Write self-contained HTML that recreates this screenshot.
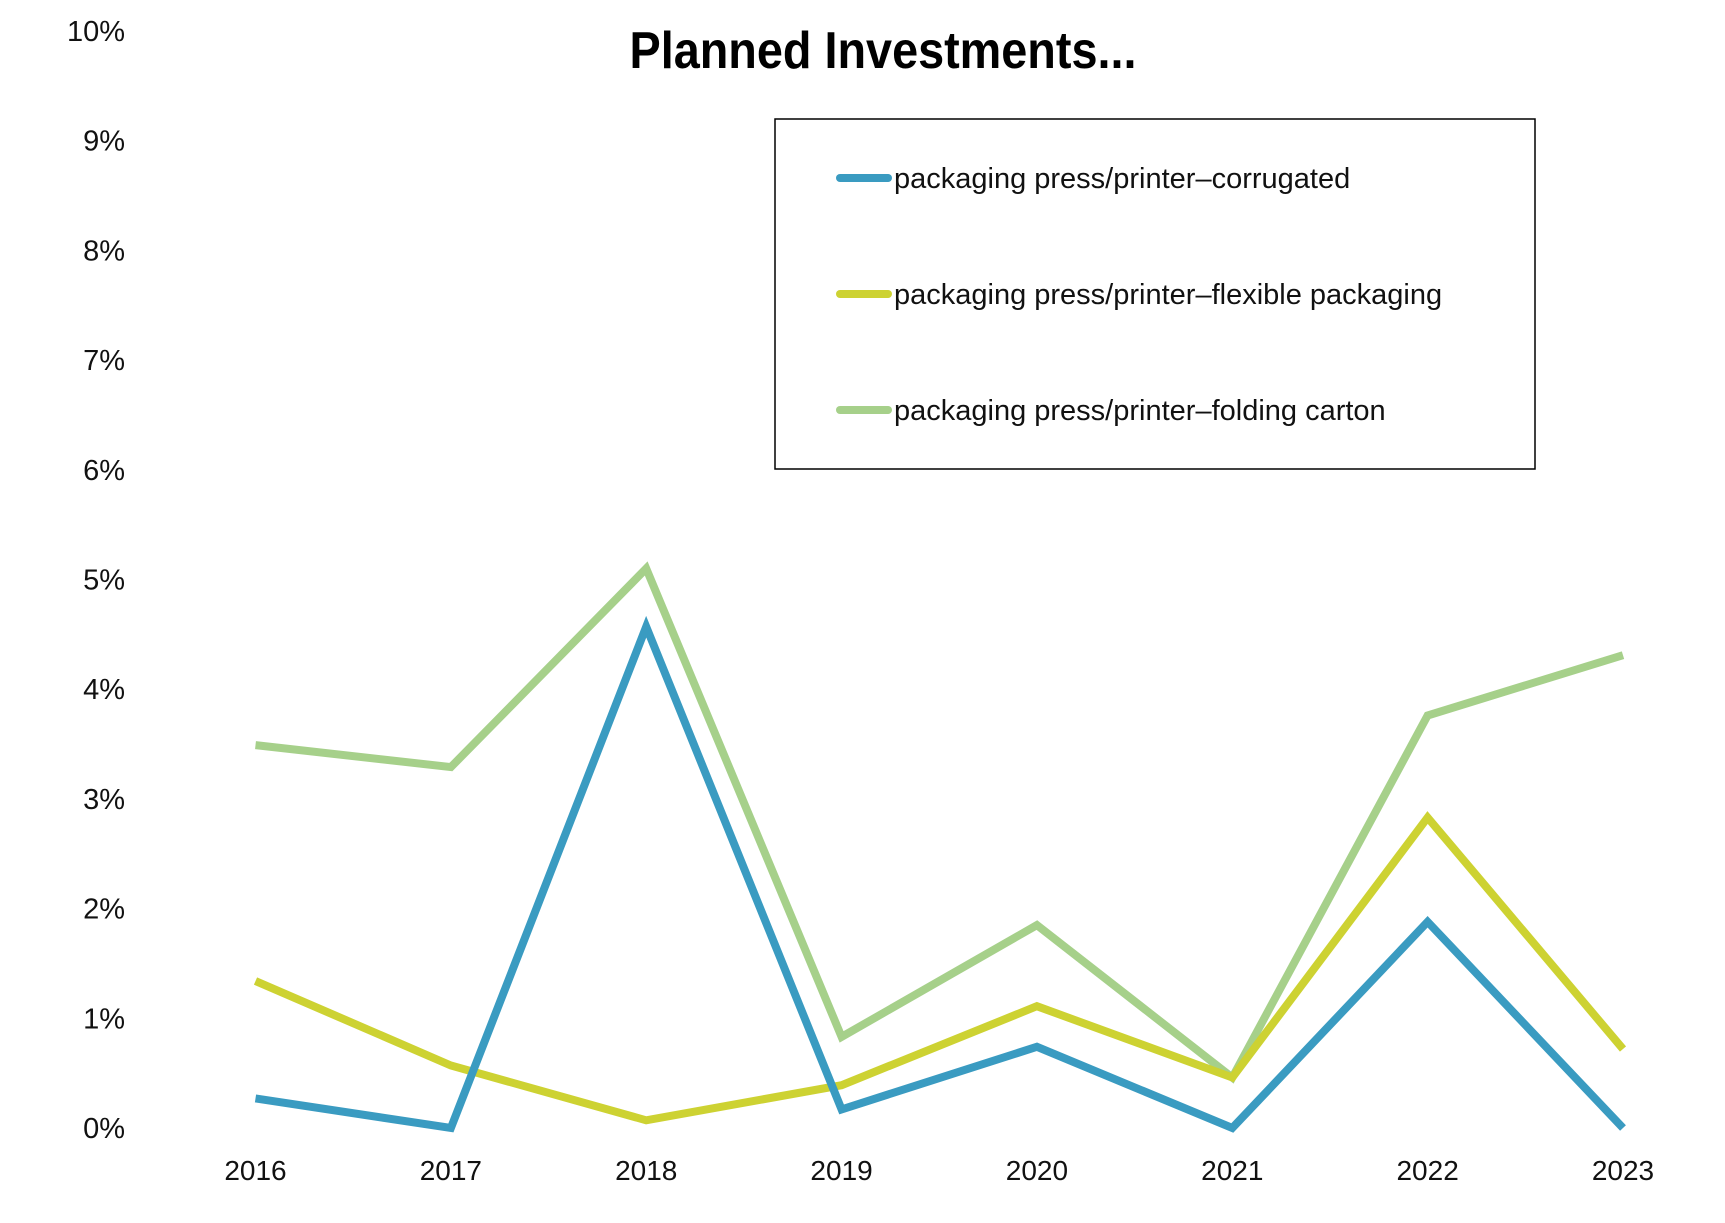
<!DOCTYPE html>
<html><head><meta charset="utf-8"><style>
html,body{margin:0;padding:0;background:#fff;}
svg{display:block;font-family:"Liberation Sans Narrow","Liberation Sans",sans-serif;}
</style></head><body>
<svg id="chart" width="1725" height="1223" viewBox="0 0 1725 1223" xmlns="http://www.w3.org/2000/svg">
<text x="883" y="68" text-anchor="middle" font-size="52" font-weight="bold" transform="translate(883 0) scale(0.9 1) translate(-883 0)">Planned Investments...</text>
<g id="yaxis"></g>
<g id="xaxis"></g>
<g id="series"></g>
<g>
<rect x="775" y="119" width="760" height="350" fill="#fff" stroke="#000" stroke-width="1.5"/>
<g id="legend-items"></g>
</g>
</svg>
<script>
const years = ["2016","2017","2018","2019","2020","2021","2022","2023"];
const corrugated = [0.27, 0, 4.57, 0.17, 0.74, 0, 1.88, 0];
const flexible = [1.34, 0.57, 0.07, 0.39, 1.11, 0.46, 2.83, 0.72];
const folding = [3.49, 3.29, 5.1, 0.83, 1.85, 0.46, 3.76, 4.31];
const yTicks = [0,1,2,3,4,5,6,7,8,9,10];
const seriesNames = ["packaging press/printer–corrugated","packaging press/printer–flexible packaging","packaging press/printer–folding carton"];

const NS="http://www.w3.org/2000/svg";
const x0=255.5, x1=1623, y0=1128, y10=31;
function xs(i){return x0+(x1-x0)*i/(years.length-1);}
function ys(v){return y0+(y10-y0)*v/10;}
function mk(tag,attrs){const e=document.createElementNS(NS,tag);for(const k in attrs)e.setAttribute(k,attrs[k]);return e;}

const ya=document.getElementById('yaxis');
yTicks.forEach(t=>{
  const e=mk('text',{x:125,y:ys(t)+10,'text-anchor':'end','font-size':29,fill:'#111'});
  
  
  e.textContent=t+'%';ya.appendChild(e);
});
const xa=document.getElementById('xaxis');
years.forEach((yr,i)=>{
  const e=mk('text',{x:xs(i),y:1180,'text-anchor':'middle','font-size':28,fill:'#111'});
  
  
  e.textContent=yr;xa.appendChild(e);
});
const colors=["#3a9bc1","#cdd232","#a6d08a"];
const data=[corrugated,flexible,folding];
const sg=document.getElementById('series');
[2,1,0].forEach(s=>{
  const pts=data[s].map((v,i)=>xs(i).toFixed(1)+','+ys(v).toFixed(1)).join(' ');
  const p=mk('polyline',{points:pts,fill:'none',stroke:colors[s],'stroke-width':8,'stroke-linejoin':'miter'});
  
  
  sg.appendChild(p);
});
const lg=document.getElementById('legend-items');
seriesNames.forEach((n,i)=>{
  const y=178+i*116;
  const l=mk('line',{x1:840,y1:y,x2:888,y2:y,stroke:colors[i],'stroke-width':8,'stroke-linecap':'round'});
  
  
  lg.appendChild(l);
  const t=mk('text',{x:894,y:y+10,'font-size':29,fill:'#111'});
  
  
  t.textContent=n;lg.appendChild(t);
});
</script>
</body></html>
